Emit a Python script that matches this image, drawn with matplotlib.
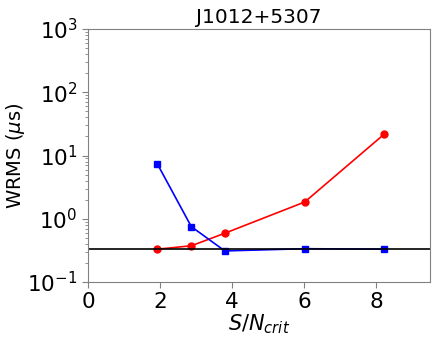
import matplotlib
matplotlib.use("Agg")
import matplotlib.pyplot as plt

x = [1.93, 2.87, 3.80, 6.02, 8.23]
red = [0.33, 0.374, 0.59, 1.84, 21.8]
blue = [7.3, 0.75, 0.31, 0.336, 0.33]
hline = 0.33
title = "J1012+5307"

fig = plt.figure(figsize=(4.36, 3.41), dpi=100)
ax = fig.add_axes([88/436, 1-282/341, (430-88)/436, (282-29)/341])
ax.plot(x, red, 'o-', color='red', markersize=5, linewidth=1.2)
ax.plot(x, blue, 's-', color='blue', markersize=5, linewidth=1.2)
ax.axhline(hline, color='black', linewidth=1.2)
ax.set_yscale('log')
ax.set_ylim(0.1, 1000)
ax.set_xlim(0, 9.5)
ax.set_xticks([0, 2, 4, 6, 8])
ax.set_title(title, fontsize=14.5, pad=4)
ax.set_xlabel(r"$S/N_{crit}$", fontsize=15, labelpad=0)
ax.set_ylabel(r"WRMS ($\mu$s)", fontsize=14)
ax.yaxis.set_label_coords(-0.178, 0.5)
ax.tick_params(labelsize=15.5, color='gray', length=4)
ax.tick_params(which='minor', color='gray', length=2)
for s in ax.spines.values():
    s.set_color('gray')
fig.savefig("out.png", dpi=100)
